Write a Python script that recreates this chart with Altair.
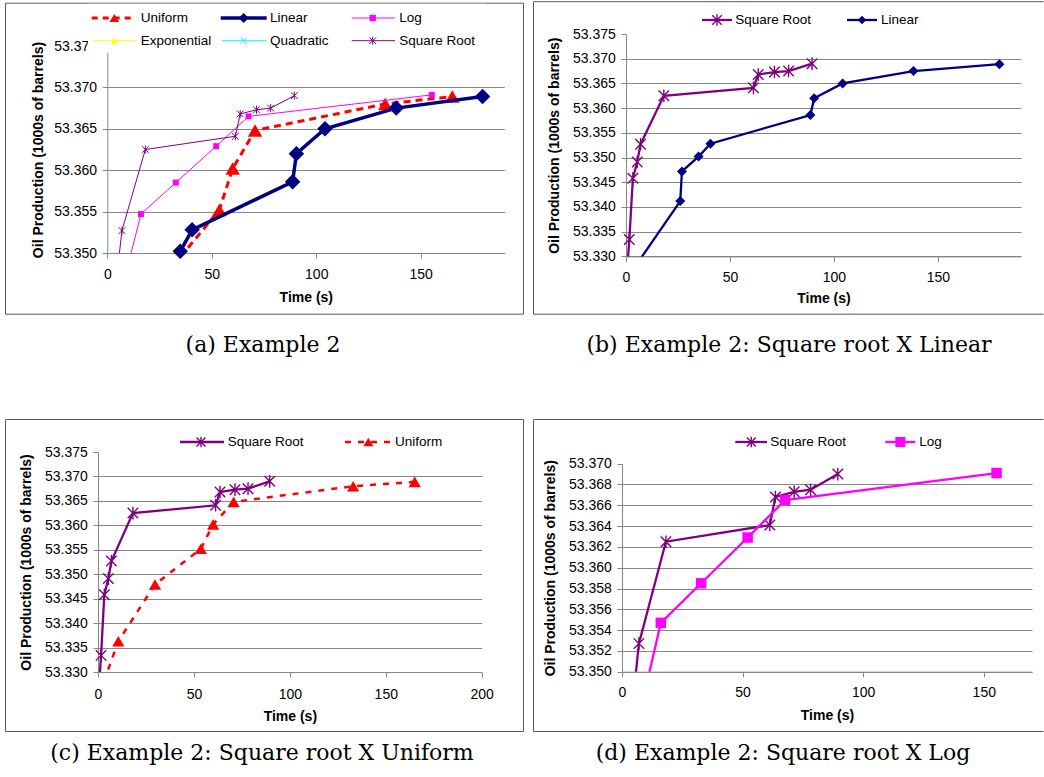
import altair as alt
import pandas as pd

SANS = "Liberation Sans"
SERIF = "DejaVu Serif"
AXIS_GRAY = "#868686"
FRAME_GRAY = "#5a5a5a"

# ---------------- data ----------------
sqrt_t = [0.5, 1.6, 3.3, 5.4, 7.0, 18.2, 61.3, 63.6, 71.4, 78.2, 89.5]
sqrt_y = [53.3270, 53.3334, 53.3458, 53.3491, 53.3527, 53.3625, 53.3641, 53.3668, 53.3673, 53.3675, 53.3690]
linear_t = [3.0, 26.1, 26.9, 34.9, 40.6, 88.7, 90.5, 104.2, 138.3, 179.6]
linear_y = [53.3271, 53.3412, 53.3472, 53.3502, 53.3528, 53.3586, 53.3620, 53.3650, 53.3675, 53.3689]
uniform_t = [3.0, 10.6, 29.7, 53.6, 60.0, 70.7, 133.0, 165.1]
uniform_y = [53.3280, 53.3363, 53.3479, 53.3552, 53.3602, 53.3648, 53.3680, 53.3689]
log_t = [5.0, 16.1, 32.8, 52.1, 67.6, 155.3]
log_y = [53.3436, 53.3547, 53.3585, 53.3629, 53.3665, 53.3691]
exp_t, exp_y = [], []
quad_t, quad_y = [], []

x_ticks_190 = [0, 50, 100, 150]
x_ticks_200 = [0, 50, 100, 150, 200]
y_ticks_a = [53.350, 53.355, 53.360, 53.365, 53.370, 53.375]
y_ticks_bc = [53.330, 53.335, 53.340, 53.345, 53.350, 53.355, 53.360, 53.365, 53.370, 53.375]
y_ticks_d = [53.350, 53.352, 53.354, 53.356, 53.358, 53.360, 53.362, 53.364, 53.366, 53.368, 53.370]

DATA = {
    "Square Root": (sqrt_t, sqrt_y),
    "Linear": (linear_t, linear_y),
    "Uniform": (uniform_t, uniform_y),
    "Log": (log_t, log_y),
    "Exponential": (exp_t, exp_y),
    "Quadratic": (quad_t, quad_y),
}

ASTERISK = "M-1,-1L1,1M-1,1L1,-1M0,-1.2L0,1.2"
XMARK = "M-1,-1L1,1M-1,1L1,-1"
STYLE = {
    "Uniform": dict(color="#FF0000", shape="triangle-up", filled=True),
    "Linear": dict(color="#000080", shape="diamond", filled=True),
    "Log": dict(color="#FF00FF", shape="square", filled=True),
    "Exponential": dict(color="#FFFF00", shape="triangle-up", filled=True),
    "Quadratic": dict(color="#00FFFF", shape=XMARK, filled=False),
    "Square Root": dict(color="#800080", shape=ASTERISK, filled=False),
}

YTITLE = "Oil Production (1000s of barrels)"

# layout (page pixels): group origins shared per row / column
COL_X = [98, 622]
ROW_Y = [33.3, 451]

PANELS = [
    dict(col=0, row=0, cell=(0, 0, 528, 400), plot=(107.3, 45.3, 504.3, 252.3),
         xdom=(0, 190), xticks=x_ticks_190, ydom=(53.350, 53.375), yticks=y_ticks_a,
         frame=(5.5, 2.5, 523.5, 313.5), right=True,
         ytp=8.3, xlp=9, xtp=9,
         series=[("Uniform", dict(w=3, dash=[7, 5], size=210)),
                 ("Linear", dict(w=3.5, size=240)),
                 ("Log", dict(w=1, size=36)),
                 ("Square Root", dict(w=1, size=45))],
         box=(88, 3, 486, 52),
         legend=[("Uniform", 91.7, 133.3, 114.3, 17.3, 140.7, 3, 90, [6, 5]),
                 ("Linear", 220.7, 266.7, 243.7, 17.3, 270, 3.5, 100, None),
                 ("Log", 351.7, 395, 372.7, 17.3, 399.3, 1, 40, None),
                 ("Exponential", 93, 136.7, 114.3, 40, 140.7, 1, 50, None),
                 ("Quadratic", 222, 266.7, 243.7, 40, 270, 1, 40, None),
                 ("Square Root", 351.7, 395, 372.7, 40, 399.3, 1, 45, None)],
         caption=("(a) Example 2", 263, 344)),
    dict(col=1, row=0, cell=(528, 0, 1044, 400), plot=(626, 33.3, 1021, 255.7),
         xdom=(0, 190), xticks=x_ticks_190, ydom=(53.330, 53.375), yticks=y_ticks_bc,
         frame=(533.5, 1, 1043.5, 313.5), right=False,
         ytp=10.7, xlp=9.5, xtp=6.5,
         series=[("Square Root", dict(w=2.3, size=110)),
                 ("Linear", dict(w=2.3, size=100))],
         box=None,
         legend=[("Square Root", 702, 732, 717, 19.3, 735.3, 2.3, 90, None),
                 ("Linear", 847, 877, 862, 19.3, 881, 2.3, 70, None)],
         caption=("(b) Example 2: Square root X Linear", 789, 344)),
    dict(col=0, row=1, cell=(0, 400, 528, 776), plot=(98, 451, 481.7, 671),
         xdom=(0, 200), xticks=x_ticks_200, ydom=(53.330, 53.375), yticks=y_ticks_bc,
         frame=(5.5, 418.5, 523.5, 730.5), right=True,
         ytp=10.6, xlp=10, xtp=8.5,
         series=[("Square Root", dict(w=2.3, size=110)),
                 ("Uniform", dict(w=2.5, dash=[6, 7], size=150))],
         box=None,
         legend=[("Square Root", 180, 224, 201, 441, 227.7, 2.3, 80, None),
                 ("Uniform", 345, 390, 368.3, 441, 395, 2.5, 100, [6, 7])],
         caption=("(c) Example 2: Square root X Uniform", 262, 752)),
    dict(col=1, row=1, cell=(528, 400, 1044, 776), plot=(622, 462.7, 1032, 670.7),
         xdom=(0, 170), xticks=x_ticks_190, ydom=(53.350, 53.370), yticks=y_ticks_d,
         frame=(533.5, 418.5, 1043.5, 730.5), right=False,
         ytp=10.7, xlp=9, xtp=9,
         series=[("Square Root", dict(w=2.3, size=110)),
                 ("Log", dict(w=2.3, size=110))],
         box=None,
         legend=[("Square Root", 735.3, 767, 751.3, 441, 770.3, 2.3, 80, None),
                 ("Log", 885.3, 915.3, 900.3, 441, 919.3, 2.3, 100, None)],
         caption=("(d) Example 2: Square root X Log", 783, 752)),
]


def point_mark(name, size, sw=1.2):
    st = STYLE[name]
    if st["filled"]:
        return dict(shape=st["shape"], filled=True, color=st["color"], size=size,
                    opacity=1, strokeWidth=0)
    return dict(shape=st["shape"], filled=False, color=st["color"], size=size,
                opacity=1, strokeWidth=sw)


def build_panel(p):
    gx, gy = COL_X[p["col"]], ROW_Y[p["row"]]
    px0, py0, px1, py1 = p["plot"]
    gw, gh = px1 - gx, py1 - gy
    one = pd.DataFrame({"k": [0]})
    ytop = p["ydom"][1]
    xs = alt.Scale(domain=list(p["xdom"]), range=[px0 - gx, px1 - gx], nice=False, zero=False)
    ys = alt.Scale(domain=list(p["ydom"]), range=[py1 - gy, py0 - gy], nice=False, zero=False)
    xaxis = alt.Axis(values=p["xticks"], title="Time (s)", titleFont=SANS, titleFontSize=14,
                     titleFontWeight="bold", titleColor="black", titlePadding=p["xtp"],
                     labelFont=SANS, labelFontSize=14, labelColor="black", labelFlush=False,
                     labelPadding=p["xlp"], labelOverlap=False,
                     domainColor=AXIS_GRAY, tickColor=AXIS_GRAY, tickSize=5, grid=False)
    yaxis = alt.Axis(values=p["yticks"], format=".3f", title=YTITLE, titleFont=SANS,
                     titleFontSize=14, titleFontWeight="bold", titleColor="black",
                     titlePadding=p["ytp"], labelFont=SANS, labelFontSize=14,
                     labelColor="black", labelPadding=5.7, labelOverlap=False,
                     labelFlush=False, domainColor=AXIS_GRAY, tickColor=AXIS_GRAY,
                     tickSize=5, grid=True, gridColor=AXIS_GRAY,
                     offset=-(px0 - gx),
                     gridOpacity={"condition": {"test": f"datum.value >= {ytop - 1e-7}",
                                                "value": 0}, "value": 1})
    X = alt.X("t:Q", scale=xs, axis=xaxis)
    Y = alt.Y("y:Q", scale=ys, axis=yaxis)

    def vx(v):
        return alt.value(v - gx)

    def vy(v):
        return alt.value(v - gy)

    layers = []
    cx0, cy0, cx1, cy1 = p["cell"]
    layers.append(alt.Chart(one).mark_rect(opacity=0).encode(
        x=vx(cx0), x2=vx(cx1), y=vy(cy0), y2=vy(cy1)))

    # frame of the sub-figure
    fx0, fy0, fx1, fy1 = p["frame"]
    rule = dict(color=FRAME_GRAY, strokeWidth=1)
    layers.append(alt.Chart(one).mark_rule(**rule).encode(x=vx(fx0), x2=vx(fx1), y=vy(fy0)))
    layers.append(alt.Chart(one).mark_rule(**rule).encode(x=vx(fx0), x2=vx(fx1), y=vy(fy1)))
    layers.append(alt.Chart(one).mark_rule(**rule).encode(x=vx(fx0), y=vy(fy0), y2=vy(fy1)))
    if p["right"]:
        layers.append(alt.Chart(one).mark_rule(**rule).encode(x=vx(fx1), y=vy(fy0), y2=vy(fy1)))

    # data series
    for name, st in p["series"]:
        t, yv = DATA[name]
        df = pd.DataFrame({"t": t, "y": yv})
        lk = dict(clip=True, color=STYLE[name]["color"], strokeWidth=st["w"])
        if "dash" in st:
            lk["strokeDash"] = st["dash"]
        layers.append(alt.Chart(df).mark_line(**lk).encode(x=X, y=Y))
        vis = df[(df.y >= p["ydom"][0] - 1e-9) & (df.t <= p["xdom"][1])]
        layers.append(alt.Chart(vis).mark_point(**point_mark(name, st["size"],
                                                             1.0 if st["w"] < 2 else 1.4))
                      .encode(x=X, y=Y))

    # legend
    if p["box"] is not None:
        bx0, by0, bx1, by1 = p["box"]
        layers.append(alt.Chart(one).mark_rect(fill="white").encode(
            x=vx(bx0), x2=vx(bx1), y=vy(by0), y2=vy(by1)))
    for name, lx0, lx1, mx, ly, tx, lw, msize, dash in p["legend"]:
        rk = dict(color=STYLE[name]["color"], strokeWidth=lw)
        if dash:
            rk["strokeDash"] = dash
        layers.append(alt.Chart(one).mark_rule(**rk).encode(x=vx(lx0), x2=vx(lx1), y=vy(ly)))
        layers.append(alt.Chart(one).mark_point(**point_mark(name, msize, 1.0 if lw < 2 else 1.4))
                      .encode(x=vx(mx), y=vy(ly)))
        layers.append(alt.Chart(one).mark_text(font=SANS, fontSize=13.5, align="left",
                                               baseline="middle", color="black").encode(
            x=vx(tx), y=vy(ly), text=alt.value(name)))

    # caption
    ctext, ccx, ccy = p["caption"]
    layers.append(alt.Chart(one).mark_text(font=SERIF, fontSize=22, align="center",
                                           baseline="middle", color="black").encode(
        x=vx(ccx), y=vy(ccy), text=alt.value(ctext)))

    return alt.layer(*layers).properties(width=gw, height=gh)


A, B, C, D = [build_panel(p) for p in PANELS]

chart = alt.vconcat(
    alt.hconcat(A, B, spacing=0),
    alt.hconcat(C, D, spacing=0),
    spacing=0,
).properties(padding=0, background="white").configure_view(stroke=None).configure_concat(spacing=0)

chart.save("out.html", embed_options={"renderer": "svg", "actions": False})
